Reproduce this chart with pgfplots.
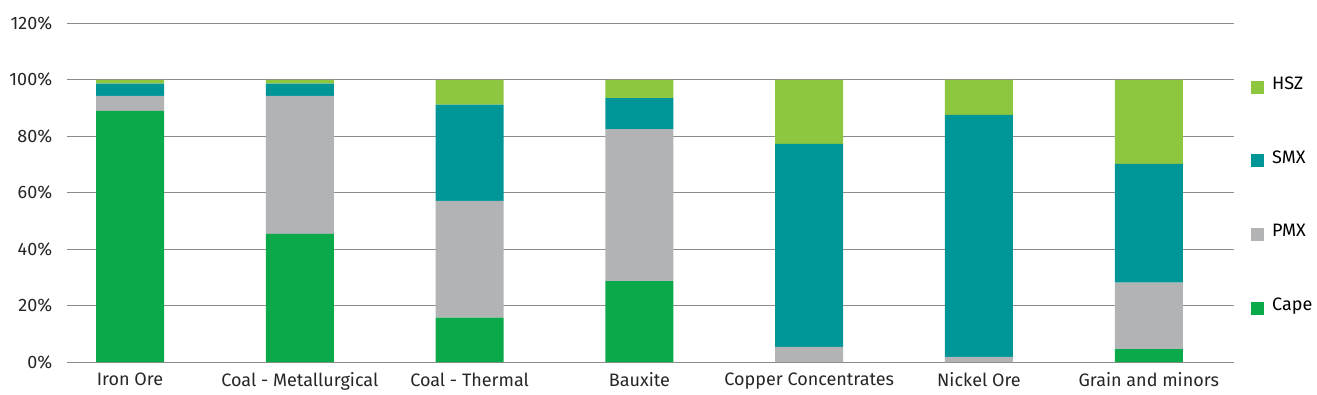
\documentclass[border=0pt]{standalone}
\usepackage{pgfplots}
\pgfplotsset{compat=1.18}
\usepackage{fontspec}
\setmainfont{Fira Sans}
\definecolor{cape}{RGB}{10,170,75}
\definecolor{pmx}{RGB}{178,179,181}
\definecolor{smx}{RGB}{0,150,152}
\definecolor{hsz}{RGB}{141,198,63}
\begin{document}
\begin{tikzpicture}
\begin{axis}[
  scale only axis,
  width=1167.3pt, height=338.7pt,
  ybar stacked, bar width=68pt,
  xmin=-0.373, xmax=6.502,
  ymin=0, ymax=120,
  xtick={0,...,6},
  xticklabels={Iron Ore,Coal - Metallurgical,Coal - Thermal,Bauxite,Copper Concentrates,Nickel Ore,Grain and minors},
  ytick={0,20,...,120},
  yticklabel={\pgfmathprintnumber{\tick}\%},
  /pgf/number format/assume math mode=true,
  ymajorgrids, grid style={draw=black!45, line width=0.9pt},
  axis line style={draw=none},
  major tick length=0pt,
  ticklabel style={font=\fontsize{18}{21}\selectfont, text=black!85},
  yticklabel style={xshift=-11pt},
  xticklabel style={yshift=-7pt},
  legend style={draw=none, fill=none, at={(axis description cs:1,1)}, anchor=north west,
    xshift=17pt, yshift=-54pt, inner sep=0pt, font=\fontsize{18}{21}\selectfont,
    row sep=57.7pt, nodes={inner sep=0pt, text height=12pt, text depth=4pt},
    /tikz/every odd column/.append style={column sep=8pt}},
  legend cell align=left,
  reverse legend,
  legend image code/.code={\fill[#1] (0pt,-8pt) rectangle (13pt,5pt);},
  every axis plot/.append style={draw=none},
]
\addplot+[fill=cape] coordinates {(0,89.0) (1,45.4) (2,15.7) (3,28.7) (4,0) (5,0) (6,4.6)};
\addplot+[fill=pmx] coordinates {(0,5.3) (1,48.9) (2,41.4) (3,53.8) (4,5.4) (5,1.8) (6,23.5)};
\addplot+[fill=smx] coordinates {(0,4.3) (1,4.3) (2,34.1) (3,11.0) (4,71.9) (5,85.8) (6,42.1)};
\addplot+[fill=hsz] coordinates {(0,1.4) (1,1.4) (2,8.8) (3,6.5) (4,22.7) (5,12.4) (6,29.8)};
\legend{Cape,PMX,SMX,HSZ}
\end{axis}
\pgfresetboundingbox
\path[use as bounding box] ([xshift=-66.7pt,yshift=-32pt]current axis.south west) rectangle ([xshift=83pt,yshift=23.3pt]current axis.north east);
\end{tikzpicture}
\end{document}
